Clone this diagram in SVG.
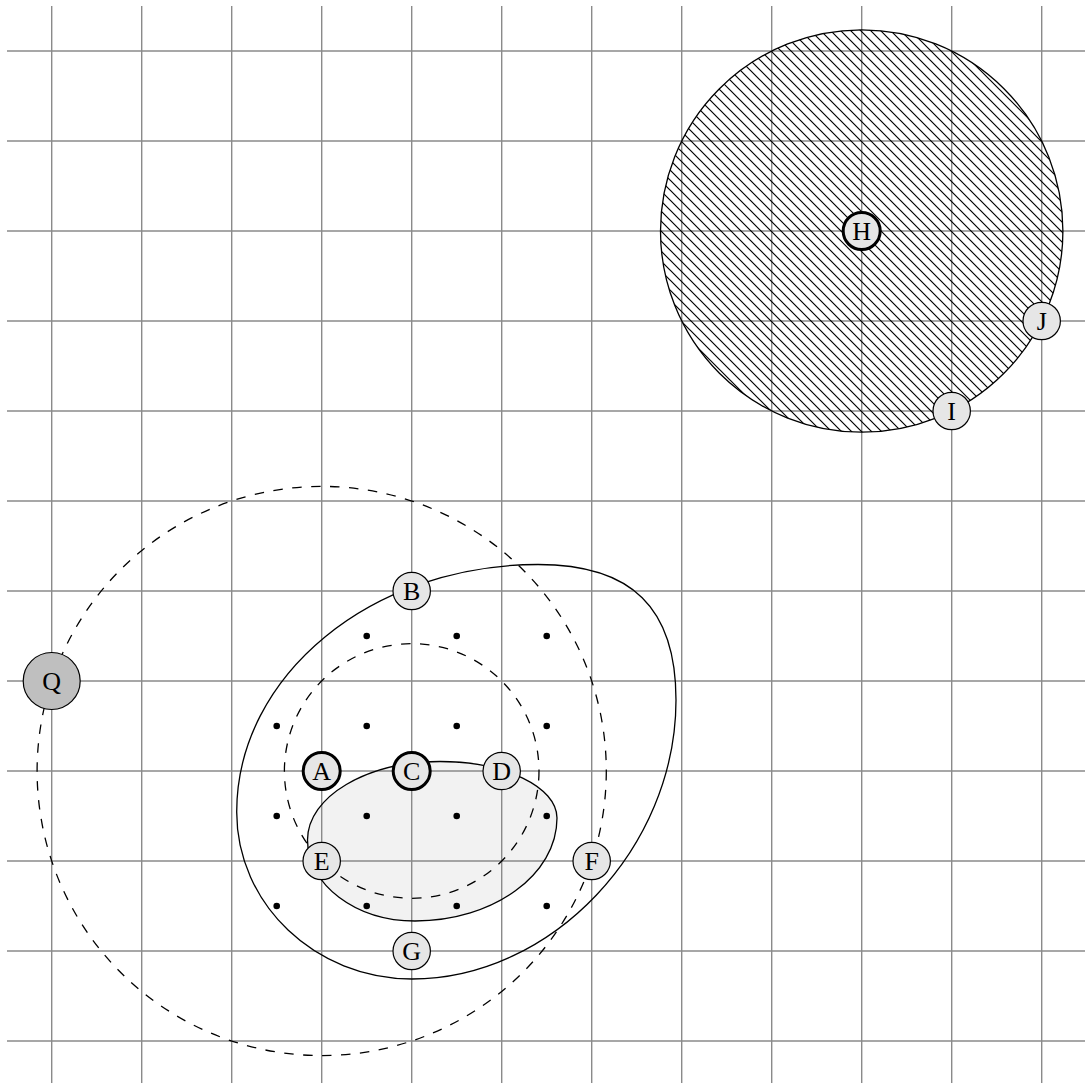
<svg xmlns="http://www.w3.org/2000/svg" width="1085" height="1086" viewBox="0 0 1085 1086">
<style>
.grid line{stroke:#8a8a8a;stroke-width:1.4}
.solid{fill:none;stroke:#000;stroke-width:1.3}
.dash{fill:none;stroke:#000;stroke-width:1.3;stroke-dasharray:9.5 9.5}
.nd{fill:#e6e6e6;stroke:#000;stroke-width:1.2}
.nd.thick{stroke-width:3}
.nd.q{fill:#bfbfbf}
.lbl{font-family:"Liberation Serif","DejaVu Serif",serif;font-size:26px;text-anchor:middle;fill:#000}
.dot{fill:#000}
</style>
<defs>
<pattern id="hatch" patternUnits="userSpaceOnUse" width="10" height="10">
<path d="M-1,-1 L11,11 M-1,9 L1,11 M9,-1 L11,1" stroke="#000" stroke-width="1.2" fill="none"/>
</pattern>
</defs>
<rect width="1085" height="1086" fill="#fff"/>
<path id="innerFill" d="M440,761.5 C504.6,761.5 557,786.8 557,818 C557,874.9 493.4,921 415,921 C355.6,921 307.5,884.7 307.5,840 C307.5,796.6 366.8,761.5 440,761.5 Z" fill="#f2f2f2" stroke="none"/>
<g class="grid">
<line x1="51.7" y1="6" x2="51.7" y2="1083"/>
<line x1="141.7" y1="6" x2="141.7" y2="1083"/>
<line x1="231.7" y1="6" x2="231.7" y2="1083"/>
<line x1="321.7" y1="6" x2="321.7" y2="1083"/>
<line x1="411.7" y1="6" x2="411.7" y2="1083"/>
<line x1="501.7" y1="6" x2="501.7" y2="1083"/>
<line x1="591.7" y1="6" x2="591.7" y2="1083"/>
<line x1="681.7" y1="6" x2="681.7" y2="1083"/>
<line x1="771.7" y1="6" x2="771.7" y2="1083"/>
<line x1="861.7" y1="6" x2="861.7" y2="1083"/>
<line x1="951.7" y1="6" x2="951.7" y2="1083"/>
<line x1="1041.7" y1="6" x2="1041.7" y2="1083"/>
<line x1="7" y1="51" x2="1085" y2="51"/>
<line x1="7" y1="141" x2="1085" y2="141"/>
<line x1="7" y1="231" x2="1085" y2="231"/>
<line x1="7" y1="321" x2="1085" y2="321"/>
<line x1="7" y1="411" x2="1085" y2="411"/>
<line x1="7" y1="501" x2="1085" y2="501"/>
<line x1="7" y1="591" x2="1085" y2="591"/>
<line x1="7" y1="681" x2="1085" y2="681"/>
<line x1="7" y1="771" x2="1085" y2="771"/>
<line x1="7" y1="861" x2="1085" y2="861"/>
<line x1="7" y1="951" x2="1085" y2="951"/>
<line x1="7" y1="1041" x2="1085" y2="1041"/>
</g>
<g id="connectors">
<circle id="hatchedCircle" cx="861.7" cy="231" r="201.2" fill="url(#hatch)" stroke="#000" stroke-width="1.3"/>
<circle id="bigDashed" class="dash" cx="321.7" cy="771" r="284.6"/>
<circle id="smallDashed" class="dash" cx="411.7" cy="771" r="127.3"/>
<path id="outerCurve" class="solid" d="M538,564.5 C631.8,564.5 676,607.9 676,700 C676,847.9 551.9,979 412,979 C315.2,979 236.7,904.2 236.7,812 C236.7,675.3 371.6,564.5 538,564.5 Z"/>
<path id="innerCurve" class="solid" d="M440,761.5 C504.6,761.5 557,786.8 557,818 C557,874.9 493.4,921 415,921 C355.6,921 307.5,884.7 307.5,840 C307.5,796.6 366.8,761.5 440,761.5 Z"/>
</g>
<g id="dots">
<circle class="dot" cx="366.7" cy="636" r="3.3"/>
<circle class="dot" cx="456.7" cy="636" r="3.3"/>
<circle class="dot" cx="546.7" cy="636" r="3.3"/>
<circle class="dot" cx="276.7" cy="726" r="3.3"/>
<circle class="dot" cx="366.7" cy="726" r="3.3"/>
<circle class="dot" cx="456.7" cy="726" r="3.3"/>
<circle class="dot" cx="546.7" cy="726" r="3.3"/>
<circle class="dot" cx="276.7" cy="816" r="3.3"/>
<circle class="dot" cx="366.7" cy="816" r="3.3"/>
<circle class="dot" cx="456.7" cy="816" r="3.3"/>
<circle class="dot" cx="546.7" cy="816" r="3.3"/>
<circle class="dot" cx="276.7" cy="906" r="3.3"/>
<circle class="dot" cx="366.7" cy="906" r="3.3"/>
<circle class="dot" cx="456.7" cy="906" r="3.3"/>
<circle class="dot" cx="546.7" cy="906" r="3.3"/>
</g>
<g id="nodeH"><circle class="nd thick" cx="861.7" cy="231" r="18.5"/><text class="lbl" x="861.7" y="239.6">H</text></g>
<g id="nodeJ"><circle class="nd" cx="1041.7" cy="321" r="18.7"/><text class="lbl" x="1041.7" y="329.6">J</text></g>
<g id="nodeI"><circle class="nd" cx="951.7" cy="411" r="18.7"/><text class="lbl" x="951.7" y="419.6">I</text></g>
<g id="nodeQ"><circle class="nd q" cx="51.7" cy="681" r="28.5"/><text class="lbl" x="51.7" y="689.6">Q</text></g>
<g id="nodeB"><circle class="nd" cx="411.7" cy="591" r="18.7"/><text class="lbl" x="411.7" y="599.6">B</text></g>
<g id="nodeA"><circle class="nd thick" cx="321.7" cy="771" r="18.5"/><text class="lbl" x="321.7" y="779.6">A</text></g>
<g id="nodeC"><circle class="nd thick" cx="411.7" cy="771" r="18.5"/><text class="lbl" x="411.7" y="779.6">C</text></g>
<g id="nodeD"><circle class="nd" cx="501.7" cy="771" r="18.7"/><text class="lbl" x="501.7" y="779.6">D</text></g>
<g id="nodeE"><circle class="nd" cx="321.7" cy="861" r="18.7"/><text class="lbl" x="321.7" y="869.6">E</text></g>
<g id="nodeF"><circle class="nd" cx="591.7" cy="861" r="18.7"/><text class="lbl" x="591.7" y="869.6">F</text></g>
<g id="nodeG"><circle class="nd" cx="411.7" cy="951" r="18.7"/><text class="lbl" x="411.7" y="959.6">G</text></g>
</svg>
